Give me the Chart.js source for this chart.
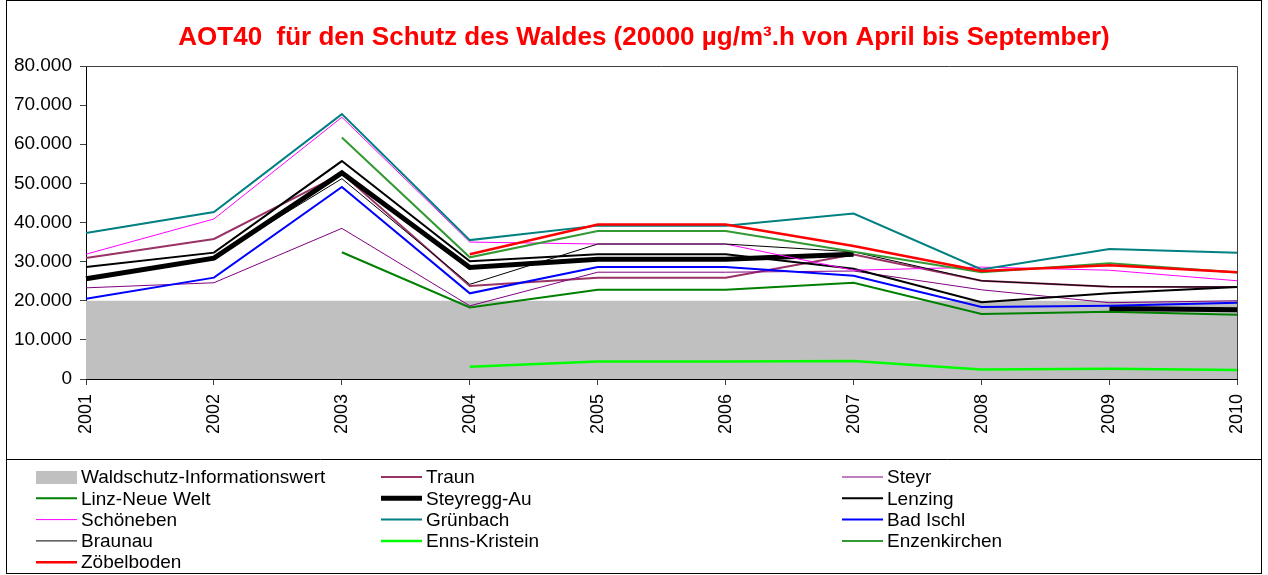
<!DOCTYPE html>
<html>
<head>
<meta charset="utf-8">
<script src="https://cdn.jsdelivr.net/npm/chart.js@4"></script>
<style>
  body { margin: 0; background: #fff; }
  #wrap { position: relative; width: 1268px; height: 575px; }
</style>
</head>
<body>
<div id="wrap"><canvas id="aotChart"></canvas></div>
<script>
// AOT40 Wald – Jahreswerte der Messstellen (µg/m³.h)
const years = ['2001', '2002', '2003', '2004', '2005', '2006', '2007', '2008', '2009', '2010'];
const yTicks = [0, 10000, 20000, 30000, 40000, 50000, 60000, 70000, 80000];

const informationswert = [20000, 20000, 20000, 20000, 20000, 20000, 20000, 20000, 20000, 20000];
const traun        = [30900, 35800, 52500, 23800, 25900, 25900, 31800, 25100, 23600, 23500];
const steyr        = [23300, 24600, 38500, 18700, 27300, 27300, 27600, 22800, 19500, 20000];
const linzNeueWelt = [null, null, 32400, 18300, 22800, 22800, 24600, 16600, 17200, 16400];
const steyreggAu   = [25600, 30900, 52700, 28500, 30600, 30600, 31900, null, 18000, 17700];
const lenzing      = [28600, 32300, 55700, 30100, 31900, 31900, 28200, 19600, 21900, 23500];
const schoeneben   = [31900, 40900, 66900, 35000, 34500, 34500, 27800, 28600, 27800, 25100];
const gruenbach    = [37300, 42700, 67700, 35500, 39200, 39200, 42300, 28000, 33200, 32300];
const badIschl     = [20500, 25900, 49100, 21900, 28600, 28600, 26400, 18400, 18700, 19500];
const braunau      = [25700, 31200, 51200, 24200, 34500, 34500, 32500, 25100, 23600, 23500];
const ennsKristein = [null, null, null, 3100, 4500, 4500, 4600, 2400, 2600, 2300];
const enzenkirchen = [null, null, 61700, 31100, 37800, 37800, 32500, 27300, 29600, 27200];
const zoebelboden  = [null, null, null, 31900, 39500, 39500, 34000, 27600, 29100, 27300];

const FONT = '"Liberation Sans", Arial, sans-serif';

function line(label, data, color, width) {
    return { label, data, borderColor: color, backgroundColor: color, borderWidth: width,
             pointRadius: 0, pointHoverRadius: 0, tension: 0, fill: false };
}

const datasets = [
    { label: 'Waldschutz-Informationswert', data: informationswert, borderWidth: 0,
      borderColor: 'rgba(0,0,0,0)', backgroundColor: '#C0C0C0', fill: 'origin', pointRadius: 0 },
    line('Traun', traun, '#993366', 2),
    line('Steyr', steyr, '#800080', 1),
    line('Linz-Neue Welt', linzNeueWelt, '#008000', 2),
    line('Steyregg-Au', steyreggAu, '#000000', 5),
    line('Lenzing', lenzing, '#000000', 2),
    line('Schöneben', schoeneben, '#FF00FF', 1),
    line('Grünbach', gruenbach, '#008080', 2),
    line('Bad Ischl', badIschl, '#0000FF', 2),
    line('Braunau', braunau, '#000000', 1),
    line('Enns-Kristein', ennsKristein, '#00FF00', 2.5),
    line('Enzenkirchen', enzenkirchen, '#339933', 2),
    line('Zöbelboden', zoebelboden, '#FF0000', 2.5)
];
// später eingetragene Reihen liegen oben
datasets.forEach((ds, i) => { ds.order = 20 - i; });

// Tausenderpunkt wie 80.000
function fmt(v) {
    return String(v).replace(/\B(?=(\d{3})+(?!\d))/g, '.');
}

// Titel, Rahmen und Legende in drei Spalten
const framePlugin = {
    id: 'framePlugin',
    afterDraw(chart) {
        const ctx = chart.ctx;
        const a = chart.chartArea;
        ctx.save();

        ctx.strokeStyle = '#404040';
        ctx.lineWidth = 1;
        ctx.beginPath();
        ctx.moveTo(a.left, Math.round(a.top) + 0.5);
        ctx.lineTo(Math.round(a.right) + 0.5, Math.round(a.top) + 0.5);
        ctx.lineTo(Math.round(a.right) + 0.5, a.bottom);
        ctx.stroke();

        ctx.fillStyle = '#FF0000';
        ctx.font = 'bold 26px ' + FONT;
        ctx.textAlign = 'center';
        ctx.textBaseline = 'middle';
        ctx.fillText('AOT40  für den Schutz des Waldes (20000 µg/m³.h von April bis September)', 644, 38);

        ctx.strokeStyle = '#000';
        ctx.lineWidth = 1;
        ctx.strokeRect(6.5, 0.5, 1255, 573);
        ctx.beginPath();
        ctx.moveTo(6.5, 459.5);
        ctx.lineTo(1261.5, 459.5);
        ctx.stroke();

        const cols = [36, 381, 842];
        ctx.font = '19px ' + FONT;
        ctx.textAlign = 'left';
        ctx.fillStyle = '#000';
        chart.data.datasets.forEach((ds, i) => {
            const x = cols[i % 3];
            const y = 477 + Math.floor(i / 3) * 21.3;
            if (ds.fill) {
                ctx.fillStyle = ds.backgroundColor;
                ctx.fillRect(x, y - 6, 41, 13);
            } else {
                ctx.strokeStyle = ds.borderColor;
                ctx.lineWidth = ds.borderWidth;
                ctx.beginPath();
                ctx.moveTo(x, y);
                ctx.lineTo(x + 41, y);
                ctx.stroke();
            }
            ctx.fillStyle = '#000';
            ctx.fillText(ds.label, x + 45, y + 1);
        });
        ctx.restore();
    }
};

new Chart(document.getElementById('aotChart'), {
    type: 'line',
    data: { labels: years, datasets: datasets },
    options: {
        responsive: true,
        maintainAspectRatio: false,
        animation: false,
        layout: { padding: { left: 0, right: 30, top: 66, bottom: 126 } },
        plugins: {
            legend: { display: false },
            title: { display: false },
            tooltip: { enabled: false },
            filler: { propagate: false }
        },
        scales: {
            x: {
                offset: false,
                grid: { drawOnChartArea: false, drawTicks: true, tickLength: 6, color: '#404040' },
                border: { color: '#000', width: 1 },
                ticks: {
                    autoSkip: false, minRotation: 90, maxRotation: 90, padding: 9,
                    color: '#000', font: { family: FONT, size: 18 }
                },
                afterFit(scale) { scale.height = 70; }
            },
            y: {
                min: 0,
                max: 80000,
                afterBuildTicks(scale) { scale.ticks = yTicks.map(v => ({ value: v })); },
                grid: { drawOnChartArea: false, drawTicks: true, tickLength: 6, color: '#404040' },
                border: { color: '#000', width: 1 },
                ticks: {
                    padding: 8, color: '#000', font: { family: FONT, size: 19 },
                    callback: v => fmt(v)
                },
                afterFit(scale) { scale.width = 86; }
            }
        }
    },
    plugins: [framePlugin]
});
</script>
</body>
</html>
